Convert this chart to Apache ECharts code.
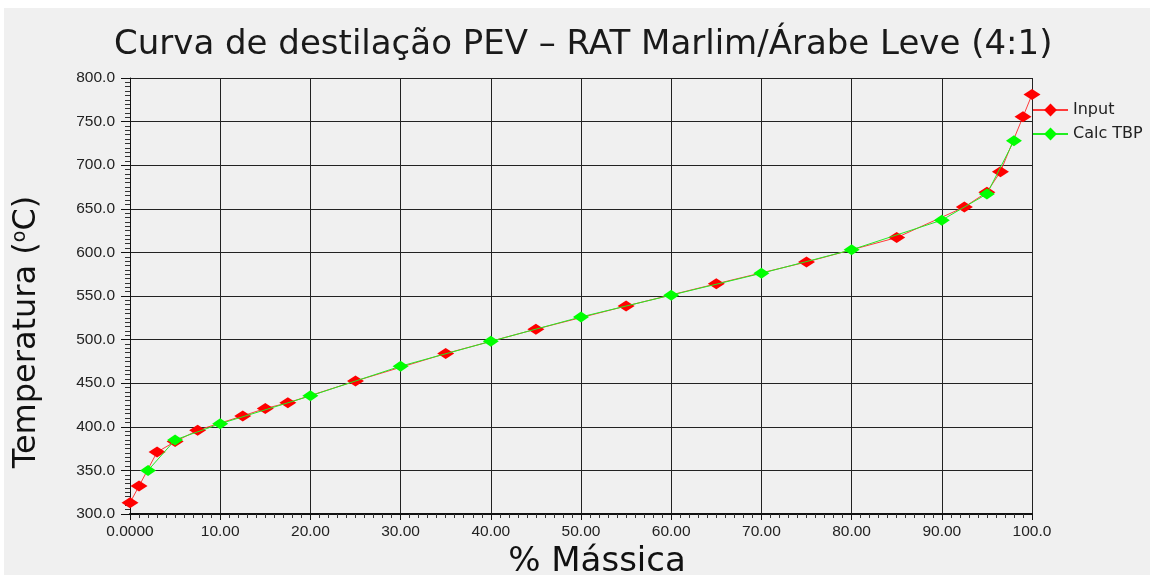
<!DOCTYPE html>
<html>
<head>
<meta charset="utf-8">
<script src="https://cdn.jsdelivr.net/npm/echarts@6/dist/echarts.min.js"></script>
<style>
html, body { margin: 0; padding: 0; background: #fff; }
#chart { width: 1150px; height: 575px; }
</style>
</head>
<body>
<div id="chart"></div>
<script>
// pontos de entrada (vermelho)
const inputX = [0, 1, 3, 5, 7.5, 12.5, 15, 17.5, 25, 35, 45, 55, 65, 75, 85, 92.5, 95, 96.5, 99, 100];
const inputY = [313, 332, 371, 383, 396, 412.5, 421, 427.5, 452.5, 484, 512, 538.5, 564, 589, 617, 652, 669, 692.5, 755.5, 781];
// curva calculada (verde)
const tbpX = [2, 5, 10, 20, 30, 40, 50, 60, 70, 80, 90, 95, 98];
const tbpY = [350, 385, 403.5, 435.5, 469.5, 498, 526, 551, 576, 603, 637, 667, 728];

const pairs = (xs, ys) => xs.map((x, i) => [x, ys[i]]);

const chart = echarts.init(document.getElementById('chart'));
const option = {
  backgroundColor: '#fff',
  animation: false,
  graphic: [{
    type: 'rect', z: -10, silent: true,
    shape: { x: 4, y: 8, width: 1146, height: 567 },
    style: { fill: '#f0f0f0' }
  }],
  title: {
    text: 'Curva de destilação PEV – RAT Marlim/Árabe Leve (4:1)',
    left: 109, top: 23,
    textStyle: { fontFamily: 'DejaVu Sans', fontSize: 34, fontWeight: 'normal', color: '#1a1a1a' }
  },
  legend: {
    orient: 'vertical', left: 1032, top: 102, padding: 0,
    itemWidth: 35, itemHeight: 16, itemGap: 8,
    textStyle: { fontFamily: 'DejaVu Sans', fontSize: 16, color: '#222' },
    data: ['Input', 'Calc TBP']
  },
  grid: { left: 130, right: 118, top: 78, bottom: 61, outerBoundsMode: 'none', containLabel: false },
  xAxis: {
    type: 'value', min: 0, max: 100, interval: 10,
    name: '% Mássica', nameLocation: 'middle', nameGap: 30,
    nameTextStyle: { fontFamily: 'DejaVu Sans', fontSize: 34, color: '#111', padding: [0, 0, 0, 32] },
    axisLine: { lineStyle: { color: '#111', width: 2 } },
    axisTick: { length: 6, lineStyle: { color: '#111' } },
    minorTick: { show: true, splitNumber: 10, length: 4, lineStyle: { color: '#333' } },
    axisLabel: {
      fontFamily: 'Liberation Sans', fontSize: 15.5, color: '#222', margin: 10,
      formatter: v => v === 0 ? '0.0000' : (v === 100 ? '100.0' : v.toFixed(2))
    },
    splitLine: { show: true, lineStyle: { color: '#222', width: 1 } }
  },
  yAxis: {
    type: 'value', min: 300, max: 800, interval: 50,
    name: 'Temperatura ({s|o}C)', nameLocation: 'middle', nameGap: 87,
    nameTextStyle: {
      fontFamily: 'DejaVu Sans', fontSize: 32, color: '#111', padding: [0, 72, 0, 0],
      rich: { s: { fontFamily: 'DejaVu Sans', fontSize: 19, color: '#111', verticalAlign: 'top', padding: [0, 0, 13, 0] } }
    },
    axisLine: { show: true, lineStyle: { color: '#111', width: 1 } },
    axisTick: { length: 9, lineStyle: { color: '#111' } },
    minorTick: { show: true, splitNumber: 10, length: 5, lineStyle: { color: '#333' } },
    axisLabel: {
      fontFamily: 'Liberation Sans', fontSize: 15.5, color: '#222', margin: 15,
      formatter: v => v.toFixed(1)
    },
    splitLine: { show: true, lineStyle: { color: '#222', width: 1 } }
  },
  series: [
    {
      name: 'Input', type: 'line', data: pairs(inputX, inputY),
      symbol: 'diamond', symbolSize: [17, 11],
      itemStyle: { color: '#ff0000' },
      lineStyle: { color: '#ff3a3a', width: 1 },
      z: 2
    },
    {
      name: 'Calc TBP', type: 'line', data: pairs(tbpX, tbpY),
      symbol: 'diamond', symbolSize: [16, 11],
      itemStyle: { color: '#00ff00' },
      lineStyle: { color: '#22ee22', width: 1 },
      z: 3
    }
  ]
};
chart.setOption(option);
</script>
</body>
</html>
